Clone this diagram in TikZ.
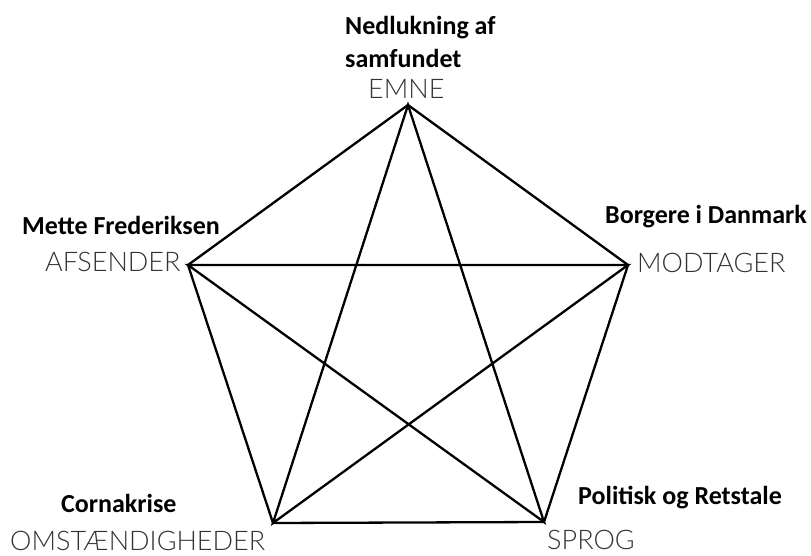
\documentclass[tikz,border=0pt]{standalone}
\usepackage{fontspec}
\setmainfont{Carlito}
\newfontfamily\thinfont{Lato Light}
\usetikzlibrary{calc}

\begin{document}
\begin{tikzpicture}[x=1pt,y=-1pt,
    topic/.style={font=\bfseries\fontsize{26}{33}\selectfont, anchor=base west, inner sep=0pt, align=left},
    role/.style={font=\thinfont\fontsize{27}{27}\selectfont, text=black!80, anchor=base west, inner sep=0pt}]
    \useasboundingbox (0,0) rectangle (811,556);
    % corners of the pentagon
    \coordinate (E) at (408,105);
    \coordinate (A) at (188,265);
    \coordinate (M) at (628,265);
    \coordinate (O) at (273,523);
    \coordinate (S) at (544,522);
    % outline and star
    \draw[line width=2.3pt, line join=miter] (E) -- (M) -- (S) -- (O) -- (A) -- cycle;
    \draw[line width=2.3pt, line join=miter] (E) -- (S) -- (A) -- (M) -- (O) -- cycle;
    % labels
    \node[role] (emne) at (368,99) {EMNE};
    \node[topic] (emneT) at (345,68) {Nedlukning af\\samfundet};
    \node[role] (afs) at (45,271) {AFSENDER};
    \node[topic] (afsT) at (22,235) {Mette Frederiksen};
    \node[role] (mod) at (637,272) {MODTAGER};
    \node[topic] (modT) at (605,223) {Borgere i Danmark};
    \node[role] (oms) at (10,550) {OMSTÆNDIGHEDER};
    \node[topic] (omsT) at (61,512) {Cornakrise};
    \node[role] (spr) at (547,549) {SPROG};
    \node[topic] (sprT) at (578,504) {Politisk og Retstale};
\end{tikzpicture}
\end{document}
